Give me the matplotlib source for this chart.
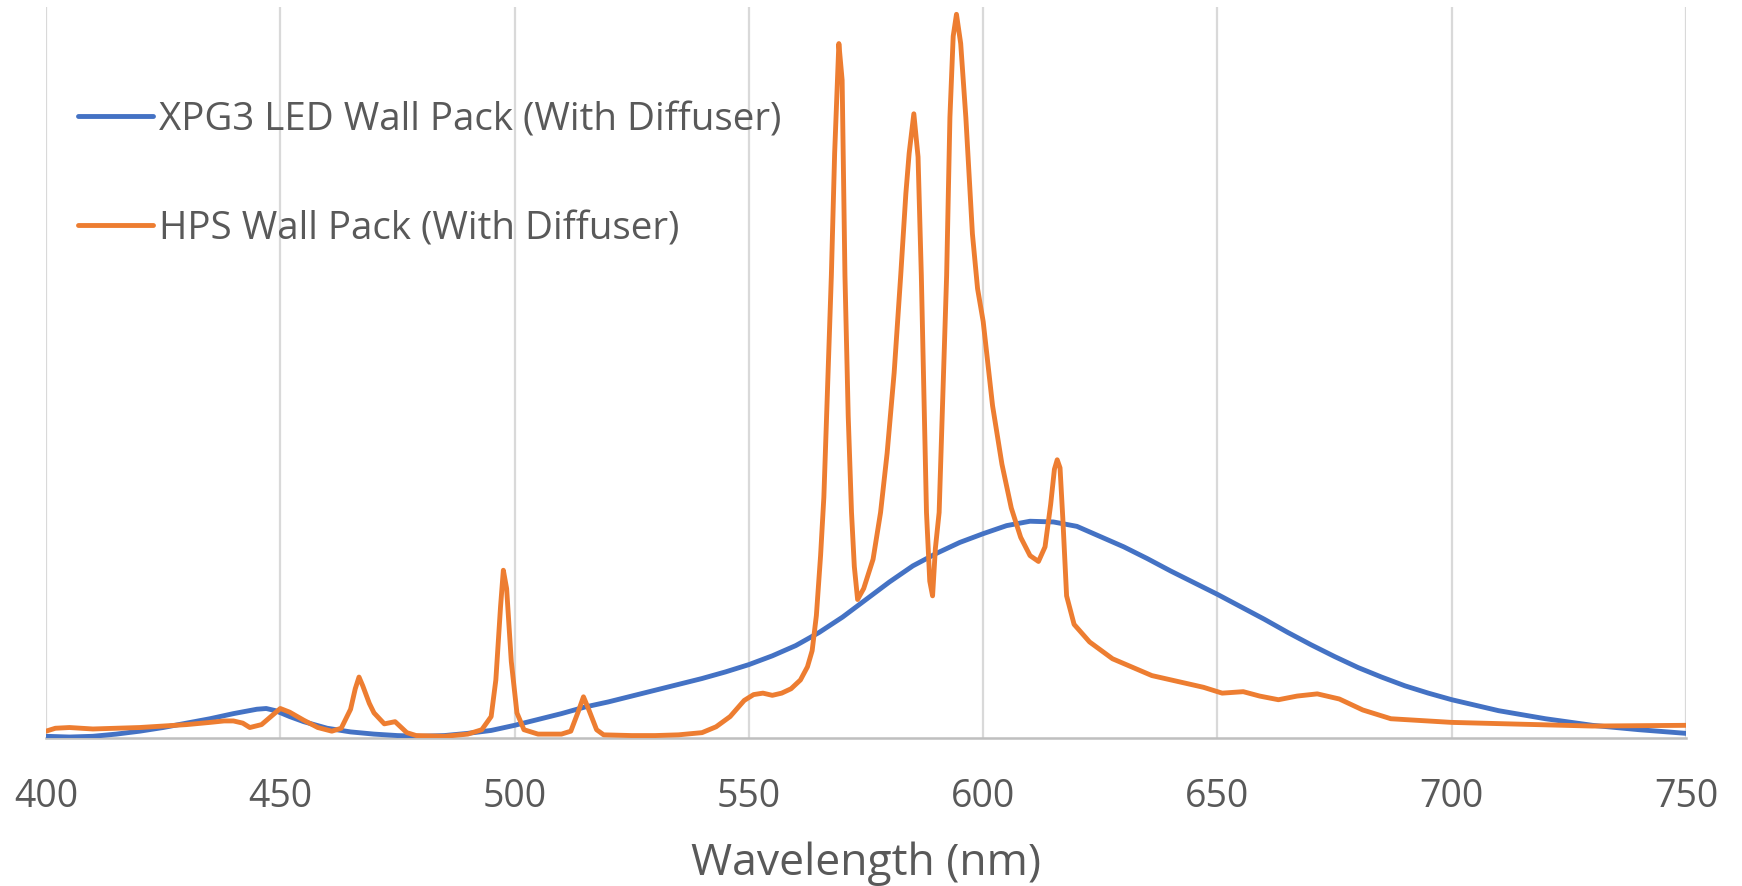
import matplotlib
matplotlib.use("Agg")
import matplotlib.pyplot as plt

plt.rcParams['font.family'] = ['Open Sans', 'DejaVu Sans']

# ---- data (relative intensity) ----
led_nm = [400, 405, 410, 415, 420, 425, 430, 435, 440, 445, 447, 449, 452, 455,
          460, 465, 470, 475, 480, 485, 490, 495, 500, 505, 510, 515, 520, 525,
          530, 535, 540, 545, 550, 555, 560, 565, 570, 575, 580, 585, 590, 595,
          600, 605, 610, 615, 620, 625, 630, 635, 640, 645, 650, 655, 660, 665,
          670, 675, 680, 685, 690, 695, 700, 710, 720, 730, 740, 750]
led_val = [0.003, 0.002, 0.003, 0.006, 0.010, 0.015, 0.021, 0.027, 0.034, 0.040,
           0.041, 0.038, 0.030, 0.023, 0.014, 0.009, 0.006, 0.004, 0.003, 0.004,
           0.007, 0.011, 0.018, 0.026, 0.034, 0.043, 0.050, 0.058, 0.066, 0.074,
           0.082, 0.091, 0.101, 0.113, 0.127, 0.145, 0.166, 0.190, 0.214, 0.236,
           0.253, 0.268, 0.280, 0.291, 0.297, 0.296, 0.290, 0.276, 0.262, 0.246,
           0.229, 0.213, 0.197, 0.180, 0.163, 0.145, 0.128, 0.112, 0.097, 0.084,
           0.072, 0.062, 0.053, 0.038, 0.027, 0.018, 0.012, 0.007]

hps_nm = [400, 402, 405, 410, 415, 420, 425, 430, 435, 438, 440, 442, 443.5, 446,
          448, 450, 452, 455, 458, 461, 463, 465, 466, 466.8, 467.6, 469, 470,
          472.2, 474.5, 475.5, 477, 479, 485, 490, 493, 495, 496, 497, 497.6,
          498.3, 499.3, 500.5, 502, 505, 510, 512, 513.6, 514.7, 515.8, 517.5,
          519, 525, 530, 535, 540, 543, 546, 549, 551, 553, 555, 557, 559, 561,
          562.5, 563.5, 564.4, 565.3, 566, 567, 567.6, 568.3, 569.2, 569.9,
          570.5, 571.2, 571.9, 572.5, 573.2, 574.5, 576.5, 578.1, 579.5, 581,
          582.4, 583.5, 584.2, 585.2, 586.1, 586.8, 587.9, 588.6, 589.2, 589.8,
          590.6, 591.4, 592.2, 592.9, 593.6, 594.3, 595.2, 596.3, 597.7, 598.8,
          600, 602, 604, 606, 608, 610, 611.8, 613.2, 614.4, 615.2, 615.8,
          616.4, 617, 617.8, 619.4, 622.7, 627.6, 636, 647, 651, 655.5, 659,
          663, 667, 671.3, 676, 681, 687, 700, 730, 750]
hps_val = [0.010, 0.014, 0.015, 0.013, 0.014, 0.015, 0.017, 0.019, 0.022, 0.024,
           0.024, 0.021, 0.015, 0.019, 0.030, 0.041, 0.036, 0.025, 0.015, 0.010,
           0.014, 0.040, 0.068, 0.084, 0.072, 0.048, 0.035, 0.020, 0.023, 0.017,
           0.008, 0.004, 0.003, 0.006, 0.012, 0.030, 0.080, 0.180, 0.230,
           0.205, 0.105, 0.035, 0.012, 0.006, 0.006, 0.010, 0.037, 0.057, 0.040,
           0.012, 0.005, 0.004, 0.004, 0.005, 0.008, 0.016, 0.030, 0.052, 0.060,
           0.062, 0.059, 0.062, 0.068, 0.080, 0.098, 0.120, 0.168, 0.250, 0.330,
           0.520, 0.633, 0.800, 0.950, 0.900, 0.633, 0.440, 0.309, 0.235, 0.190,
           0.205, 0.245, 0.309, 0.390, 0.500, 0.633, 0.745, 0.800, 0.854, 0.795,
           0.633, 0.309, 0.215, 0.195, 0.260, 0.309, 0.470, 0.633, 0.849, 0.960,
           0.990, 0.950, 0.849, 0.690, 0.615, 0.570, 0.455, 0.375, 0.315, 0.275,
           0.250, 0.242, 0.262, 0.320, 0.368, 0.381, 0.370, 0.300, 0.195, 0.156,
           0.132, 0.109, 0.086, 0.070, 0.062, 0.064, 0.058, 0.053, 0.058, 0.061,
           0.054, 0.039, 0.027, 0.022, 0.017, 0.018]

xticks = [400, 450, 500, 550, 600, 650, 700, 750]
labels = ["XPG3 LED Wall Pack (With Diffuser)", "HPS Wall Pack (With Diffuser)"]

# ---- plot ----
fig = plt.figure(figsize=(17.42, 8.87), dpi=100)
ax = fig.add_axes([0.0264, 0.1663, 0.9415, 0.8247])

ax.plot(led_nm, led_val, color="#4472C4", lw=3.5, label=labels[0],
        solid_joinstyle="round", solid_capstyle="round", zorder=3)
ax.plot(hps_nm, hps_val, color="#ED7D31", lw=3.5, label=labels[1],
        solid_joinstyle="round", solid_capstyle="round", zorder=4)

ax.set_xlim(400, 750)
ax.set_ylim(0, 1.0)
ax.set_xticks(xticks)
ax.set_yticks([])
ax.grid(axis="x", color="#d9d9d9", lw=1.6)
ax.set_axisbelow(True)

for s in ["top", "right", "left"]:
    ax.spines[s].set_visible(False)
ax.spines["bottom"].set_color("#bfbfbf")
ax.spines["bottom"].set_linewidth(1.8)
ax.spines["bottom"].set_zorder(2)

ax.tick_params(axis="x", length=0, pad=28, labelsize=27, labelcolor="#595959")
ax.set_xlabel("Wavelength (nm)", fontsize=32, color="#595959", labelpad=18)

leg = ax.legend(loc="upper left", bbox_to_anchor=(0.045, 0.886),
                bbox_transform=fig.transFigure, frameon=False, fontsize=27.7,
                handlelength=1.95, handletextpad=0.15, labelspacing=1.85,
                borderpad=0, borderaxespad=0)
for t in leg.get_texts():
    t.set_color("#595959")

fig.savefig("out.png", dpi=100)
